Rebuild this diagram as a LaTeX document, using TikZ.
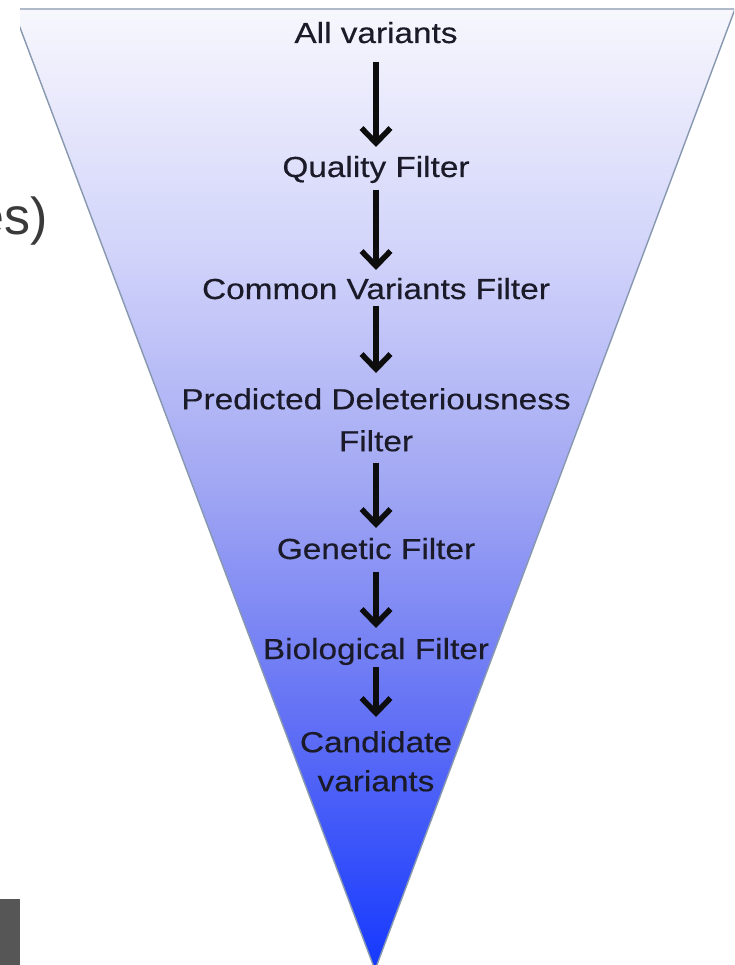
\documentclass[tikz,border=0pt]{standalone}
\usepackage{fontspec}
\setmainfont{Liberation Sans}
\newfontfamily\lblfont[FakeBold=0.35]{Liberation Sans}
\usepackage{graphicx}
\usetikzlibrary{arrows.meta}
\definecolor{f0}{RGB}{247,247,253}
\definecolor{f1}{RGB}{210,212,250}
\definecolor{f2}{RGB}{160,166,243}
\definecolor{f3}{RGB}{95,110,245}
\definecolor{fb}{RGB}{20,56,255}
\definecolor{txt}{HTML}{1A1A28}
\definecolor{rimc}{RGB}{135,152,175}
\definecolor{esc}{HTML}{3A3A3A}
\definecolor{boxc}{HTML}{565656}
\pgfdeclareverticalshading{funnel}{100bp}{color(0bp)=(fb); color(25bp)=(fb); color(37.5bp)=(f3); color(50bp)=(f2); color(62.5bp)=(f1); color(75bp)=(f0); color(100bp)=(f0)}
\newcommand\wide[1]{\scalebox{1.15}[1]{#1}}
\tikzset{
  lbl/.style={inner sep=0pt, text=txt, font=\lblfont\fontsize{29}{42}\selectfont},
  arr/.style={line width=5.5pt, draw=black!95, -{Straight Barb[length=15pt,width=29pt]}},
  rim/.style={draw=rimc, line width=1.4pt, line join=miter}
}
\begin{document}
\begin{tikzpicture}[x=1pt,y=-1pt]
\useasboundingbox (0,0) rectangle (734,965);
\fill[white] (0,0) rectangle (734,965);
\begin{scope}
  \clip (20,0) rectangle (734,965);
  \shade[shading=funnel] (13,9) -- (735,9) -- (375,970) -- cycle;
  \draw[rim] (13,9) -- (735,9) -- (375,970) -- cycle;
\end{scope}
\fill[boxc] (0,899) rectangle (20,965);
\node[anchor=base east, inner sep=0pt, text=esc, font=\fontsize{52}{60}\selectfont] (es) at (48,235) {es)};
\node[lbl, anchor=base] (n1) at (376,43) {\wide{All variants}};
\node[lbl, anchor=base] (n2) at (376,177) {\wide{Quality Filter}};
\node[lbl, anchor=base] (n3) at (376,299) {\wide{Common Variants Filter}};
\node[lbl, anchor=north, align=center] (n4) at (376,388) {\wide{Predicted Deleteriousness}\\\wide{Filter}};
\node[lbl, anchor=base] (n5) at (376,559) {\wide{Genetic Filter}};
\node[lbl, anchor=base] (n6) at (376,659) {\wide{Biological Filter}};
\node[lbl, anchor=north, align=center, font=\lblfont\fontsize{29}{39}\selectfont] (n7) at (376,731) {\wide{Candidate}\\\wide{variants}};
\draw[arr] ([yshift=-19pt]n1.base) -- ([yshift=30pt]n2.base);
\draw[arr] ([yshift=-13pt]n2.base) -- ([yshift=29pt]n3.base);
\draw[arr] ([yshift=-7pt]n3.base) -- ([yshift=15pt]n4.north);
\draw[arr] ([yshift=-11pt]n4.south) -- ([yshift=31pt]n5.base);
\draw[arr] ([yshift=-13pt]n5.base) -- ([yshift=31pt]n6.base);
\draw[arr] ([yshift=-8pt]n6.base) -- ([yshift=14pt]n7.north);
\end{tikzpicture}
\end{document}
